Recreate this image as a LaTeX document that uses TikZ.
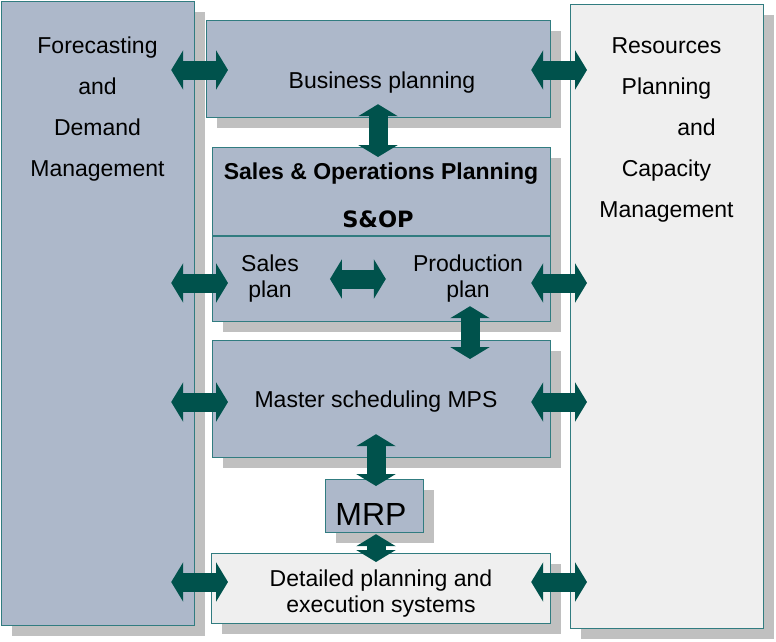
\documentclass[tikz,border=0pt]{standalone}
\usepackage{fontspec}
\setmainfont{Liberation Sans}
\newfontfamily\sopfont{DejaVu Sans}
\usetikzlibrary{positioning, arrows.meta, shadows}
\definecolor{boxblue}{RGB}{173,184,202}
\definecolor{boxgray}{RGB}{239,239,239}
\definecolor{edgeteal}{RGB}{49,124,128}
\definecolor{arrowteal}{RGB}{0,82,76}
\definecolor{shadowgray}{RGB}{192,192,192}

\begin{document}
\begin{tikzpicture}[x=1pt, y=-1pt,
    box/.style={draw=edgeteal, line width=1.2pt, fill=boxblue, anchor=north west, inner sep=0pt,
      drop shadow={shadow xshift=10pt, shadow yshift=-10pt, fill=shadowgray, opacity=1}},
    lightbox/.style={box, fill=boxgray},
    lbl/.style={font=\fontsize{23}{26}\selectfont, align=center, inner sep=0pt},
    tall/.style={lbl, font=\fontsize{23}{41}\selectfont, anchor=north},
    dblarrow/.style={arrowteal, line width=19pt,
      {Triangle[length=12pt, width=39pt]}-{Triangle[length=12pt, width=39pt]}}]
    \useasboundingbox (0,0) rectangle (776,641);

    % side columns
    \node[box, minimum width=193pt, minimum height=624pt] (fdm) at (1,1) {};
    \node[lightbox, minimum width=193pt, minimum height=624pt] (rpc) at (570,4) {};
    \node[tall] (fdmtxt) at (97.5,37) {Forecasting\\and\\Demand\\Management};
    \node[tall] (rpctxt) at (666.5,37) {Resources\\Planning\\\hspace*{60pt}and\\Capacity\\Management};

    % planning levels
    \node[box, minimum width=344pt, minimum height=97pt] (bp) at (206,20) {};
    \node[box, minimum width=338pt, minimum height=174pt] (sop) at (212,147) {};
    \node[box, minimum width=338pt, minimum height=117pt] (mps) at (212,340) {};
    \node[lightbox, minimum width=339pt, minimum height=70pt] (dpe) at (211,553) {};
    \node[box, minimum width=98pt, minimum height=53pt] (mrp) at (325,479) {};
    \draw[edgeteal, line width=1.2pt] (sop.west |- 0,236) -- (sop.east |- 0,236);

    \node[lbl] (bptxt) at (382,83) {Business planning};
    \node[lbl, font=\bfseries\fontsize{23}{26}\selectfont] (soptxt) at (381,174) {Sales \& Operations Planning};
    \node[lbl, font=\sopfont\bfseries\fontsize{22.5}{26}\selectfont] (sopabbr) at (378,219) {S\&OP};
    \node[lbl] (salesplan) at (270,279) {Sales\\plan};
    \node[lbl] (prodplan) at (468,279) {Production\\plan};
    \node[lbl] (mpstxt) at (376,402) {Master scheduling MPS};
    \node[lbl, font=\fontsize{32}{36}\selectfont] (mrptxt) at (371,514) {MRP};
    \node[lbl] (dpetxt) at (381,594) {Detailed planning and\\execution systems};

    \foreach \y/\b/\s in {70/bp/22, 283/sop/16, 402/mps/16, 582/dpe/17} {
      \draw[dblarrow] ([xshift=-24pt]fdm.east |- 0,\y) -- ([xshift=\s pt]\b.west |- 0,\y);
      \draw[dblarrow] ([xshift=-20pt]\b.east |- 0,\y) -- ([xshift=17pt]rpc.west |- 0,\y);
    }
    \draw[dblarrow] ([xshift=31pt]salesplan.east |- 0,279) -- ([xshift=-27pt]prodplan.west |- 0,279);
    \draw[dblarrow] ([yshift=14pt]bp.south -| 378,0) -- ([yshift=-10pt]sop.north -| 378,0);
    \draw[dblarrow] ([yshift=16pt]sop.south -| 470,0) -- ([yshift=-19pt]mps.north -| 470,0);
    \draw[dblarrow] ([yshift=24pt]mps.south -| 376,0) -- ([yshift=-7pt]mrp.north -| 376,0);
    \draw[dblarrow] ([yshift=-1pt]mrp.south -| 376,0) -- ([yshift=-9pt]dpe.north -| 376,0);
  \end{tikzpicture}
\end{document}
